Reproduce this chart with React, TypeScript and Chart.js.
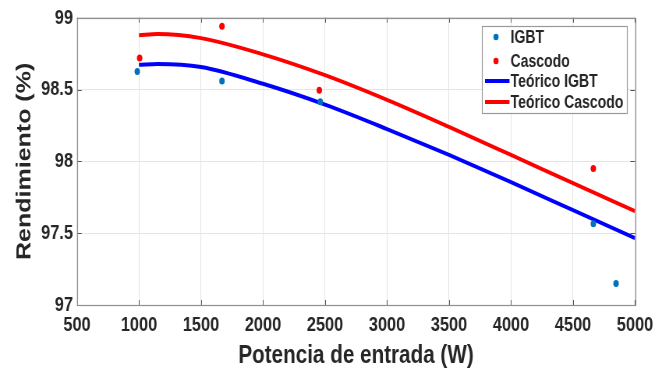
import React, { useEffect, useRef } from 'react';
import { Chart, registerables } from 'chart.js';

Chart.register(...registerables);

// Measured points
const igbtX = [986, 1669, 2462, 4664, 4847];
const igbtY = [98.625, 98.56, 98.415, 97.565, 97.15];
const cascodoX = [1005, 1669, 2454, 4664];
const cascodoY = [98.72, 98.94, 98.495, 97.951];

// Theoretical curves
const theoX = [1000, 1150, 1500, 2000, 2500, 3000, 3500, 4000, 4500, 5000];
const teoIgbtY = [98.672, 98.678, 98.657, 98.54, 98.395, 98.225, 98.045, 97.855, 97.66, 97.465];
const teoCascodoY = [98.878, 98.887, 98.858, 98.745, 98.6, 98.428, 98.24, 98.045, 97.848, 97.653];

const xTicks = [500, 1000, 1500, 2000, 2500, 3000, 3500, 4000, 4500, 5000];
const yTicks = [97, 97.5, 98, 98.5, 99];

const seriesLabels = ['IGBT', 'Cascodo', 'Teórico IGBT', 'Teórico Cascodo'];
const xTitle = 'Potencia de entrada (W)';
const yTitle = 'Rendimiento (%)';

// The figure is drawn on a wider canvas and squeezed horizontally, like the reference.
const OUT_W = 669;
const H = 372;
const W = 858;
const SX = OUT_W / W;
const ix = (x: number) => x / SX;

const FONT = "'Liberation Sans', Arial, sans-serif";
const TEXT = '#262626';

const frameAndTicks = {
  id: 'frameAndTicks',
  afterDatasetsDraw(chart: any) {
    const { ctx, chartArea: a, scales } = chart;
    ctx.save();
    ctx.strokeStyle = '#555555';
    ctx.lineWidth = 1;
    const tlv = 5;
    const tlh = 6;
    ctx.beginPath();
    xTicks.forEach((v) => {
      const px = Math.round(scales.x.getPixelForValue(v)) + 0.5;
      ctx.moveTo(px, a.bottom);
      ctx.lineTo(px, a.bottom - tlv);
      ctx.moveTo(px, a.top);
      ctx.lineTo(px, a.top + tlv);
    });
    yTicks.forEach((v) => {
      const py = Math.round(scales.y.getPixelForValue(v)) + 0.5;
      ctx.moveTo(a.left, py);
      ctx.lineTo(a.left + tlh, py);
      ctx.moveTo(a.right, py);
      ctx.lineTo(a.right - tlh, py);
    });
    ctx.stroke();
    ctx.strokeStyle = '#8f8f8f';
    ctx.lineWidth = 1.2;
    ctx.strokeRect(Math.round(a.left) + 0.5, Math.round(a.top) + 0.5, Math.round(a.right - a.left), Math.round(a.bottom - a.top));
    ctx.restore();
  },
};

const insideLegend = {
  id: 'insideLegend',
  afterDraw(chart: any) {
    const { ctx } = chart;
    const ds = chart.data.datasets;
    const bx = ix(482), by = 26, bw = ix(627) - ix(482), bh = 87;
    ctx.save();
    ctx.fillStyle = '#ffffff';
    ctx.fillRect(bx, by, bw, bh);
    ctx.strokeStyle = '#999999';
    ctx.lineWidth = 1.2;
    ctx.strokeRect(Math.round(bx) + 0.5, by + 0.5, Math.round(bw), bh);
    const rows = [37, 61, 81, 102];
    ctx.font = `bold 18px ${FONT}`;
    ctx.textBaseline = 'middle';
    ctx.textAlign = 'left';
    ds.forEach((d: any, i: number) => {
      const y = rows[i];
      if (d.showLine) {
        ctx.strokeStyle = d.borderColor;
        ctx.lineWidth = 4;
        ctx.beginPath();
        ctx.moveTo(ix(485), y);
        ctx.lineTo(ix(509.5), y);
        ctx.stroke();
      } else {
        ctx.fillStyle = d.backgroundColor;
        ctx.beginPath();
        ctx.arc(ix(496), y, 3.3, 0, Math.PI * 2);
        ctx.fill();
      }
      ctx.fillStyle = TEXT;
      ctx.fillText(d.label, ix(510.5), y + 1);
    });
    ctx.restore();
  },
};

export default function App() {
  const ref = useRef<HTMLCanvasElement | null>(null);

  useEffect(() => {
    if (!ref.current) return;
    const chart = new Chart(ref.current, {
      type: 'scatter',
      data: {
        datasets: [
          {
            label: seriesLabels[0],
            data: igbtX.map((x, i) => ({ x, y: igbtY[i] })),
            backgroundColor: '#0072BD',
            borderColor: '#0072BD',
            pointRadius: 3.5,
            pointBorderWidth: 0,
            showLine: false,
          },
          {
            label: seriesLabels[1],
            data: cascodoX.map((x, i) => ({ x, y: cascodoY[i] })),
            backgroundColor: '#FF0000',
            borderColor: '#FF0000',
            pointRadius: 3.5,
            pointBorderWidth: 0,
            showLine: false,
          },
          {
            label: seriesLabels[2],
            data: theoX.map((x, i) => ({ x, y: teoIgbtY[i] })),
            borderColor: '#0000FF',
            backgroundColor: '#0000FF',
            borderWidth: 4,
            pointRadius: 0,
            showLine: true,
            cubicInterpolationMode: 'monotone',
          },
          {
            label: seriesLabels[3],
            data: theoX.map((x, i) => ({ x, y: teoCascodoY[i] })),
            borderColor: '#FF0000',
            backgroundColor: '#FF0000',
            borderWidth: 4,
            pointRadius: 0,
            showLine: true,
            cubicInterpolationMode: 'monotone',
          },
        ] as any,
      },
      options: {
        animation: false,
        responsive: false,
        devicePixelRatio: 1,
        layout: { padding: { left: 0, right: W - ix(635), top: 17, bottom: 0 } },
        plugins: { legend: { display: false }, tooltip: { enabled: false } },
        scales: {
          x: {
            type: 'linear',
            min: 500,
            max: 5000,
            afterBuildTicks: (s: any) => { s.ticks = xTicks.map((v) => ({ value: v })); },
            afterFit: (s: any) => { s.height = H - 305; },
            ticks: {
              callback: (v: any) => String(v),
              font: { family: FONT, size: 21, weight: 'bold' },
              color: TEXT,
              padding: 8,
              maxRotation: 0,
              autoSkip: false,
            },
            grid: { color: '#e4e4e4', drawTicks: false },
            border: { display: false },
            title: {
              display: true,
              text: xTitle,
              font: { family: FONT, size: 26.5, weight: 'bold' },
              color: TEXT,
              padding: { top: 0, bottom: 0 },
            },
          },
          y: {
            type: 'linear',
            min: 97,
            max: 99,
            afterBuildTicks: (s: any) => { s.ticks = yTicks.map((v) => ({ value: v })); },
            afterFit: (s: any) => { s.width = ix(77); },
            ticks: {
              callback: (v: any) => String(v),
              font: { family: FONT, size: 21, weight: 'bold' },
              color: TEXT,
              padding: ix(4),
            },
            grid: { color: '#e4e4e4', drawTicks: false },
            border: { display: false },
            title: {
              display: true,
              text: yTitle,
              font: { family: FONT, size: 25, weight: 'bold' },
              color: TEXT,
              padding: { top: 17, bottom: 0 },
            },
          },
        },
      } as any,
      plugins: [frameAndTicks, insideLegend],
    });
    return () => chart.destroy();
  }, []);

  return (
    <div style={{ position: 'fixed', left: 0, top: 0, width: OUT_W, height: H, overflow: 'hidden', background: '#fff' }}>
      <canvas
        ref={ref}
        width={W}
        height={H}
        style={{ display: 'block', width: W, height: H, transform: `scale(${SX}, 1)`, transformOrigin: '0 0' }}
      />
    </div>
  );
}
